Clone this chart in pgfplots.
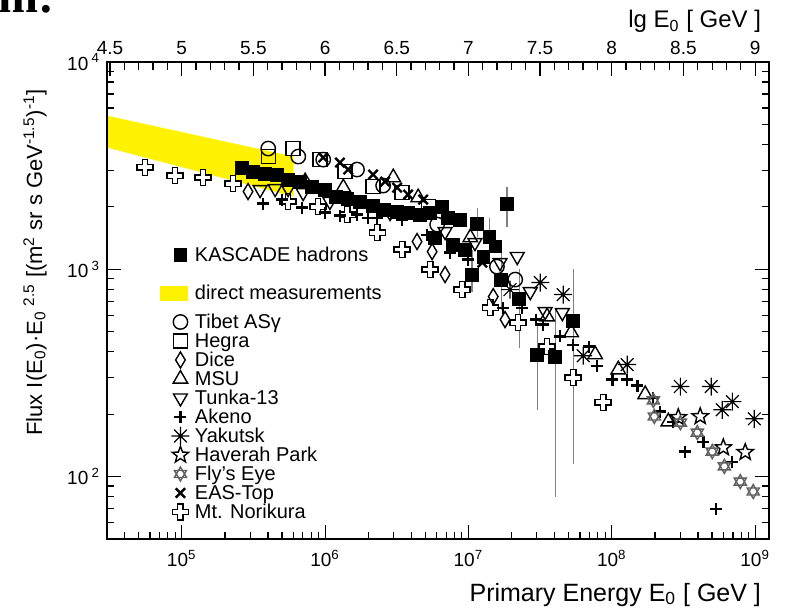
\documentclass[border=0pt]{standalone}
\usepackage{pgfplots}
\pgfplotsset{compat=1.18}
\usepackage{fontspec}
\setmainfont{Liberation Sans}
\newfontfamily\serifbold{Liberation Serif}
\usetikzlibrary{plotmarks}

\pgfdeclareplotmark{ocross}{%
  \pgfpathmoveto{\pgfqpoint{0.33\pgfplotmarksize}{\pgfplotmarksize}}%
  \pgfpathlineto{\pgfqpoint{0.33\pgfplotmarksize}{0.33\pgfplotmarksize}}%
  \pgfpathlineto{\pgfqpoint{\pgfplotmarksize}{0.33\pgfplotmarksize}}%
  \pgfpathlineto{\pgfqpoint{\pgfplotmarksize}{-0.33\pgfplotmarksize}}%
  \pgfpathlineto{\pgfqpoint{0.33\pgfplotmarksize}{-0.33\pgfplotmarksize}}%
  \pgfpathlineto{\pgfqpoint{0.33\pgfplotmarksize}{-\pgfplotmarksize}}%
  \pgfpathlineto{\pgfqpoint{-0.33\pgfplotmarksize}{-\pgfplotmarksize}}%
  \pgfpathlineto{\pgfqpoint{-0.33\pgfplotmarksize}{-0.33\pgfplotmarksize}}%
  \pgfpathlineto{\pgfqpoint{-\pgfplotmarksize}{-0.33\pgfplotmarksize}}%
  \pgfpathlineto{\pgfqpoint{-\pgfplotmarksize}{0.33\pgfplotmarksize}}%
  \pgfpathlineto{\pgfqpoint{-0.33\pgfplotmarksize}{0.33\pgfplotmarksize}}%
  \pgfpathlineto{\pgfqpoint{-0.33\pgfplotmarksize}{\pgfplotmarksize}}%
  \pgfpathclose
  \pgfusepathqfillstroke}
\pgfdeclareplotmark{hexa}{%
  \pgfpathmoveto{\pgfpointpolar{90}{\pgfplotmarksize}}%
  \pgfpathlineto{\pgfpointpolar{210}{\pgfplotmarksize}}%
  \pgfpathlineto{\pgfpointpolar{330}{\pgfplotmarksize}}%
  \pgfpathclose
  \pgfpathmoveto{\pgfpointpolar{270}{\pgfplotmarksize}}%
  \pgfpathlineto{\pgfpointpolar{30}{\pgfplotmarksize}}%
  \pgfpathlineto{\pgfpointpolar{150}{\pgfplotmarksize}}%
  \pgfpathclose
  \pgfusepathqstroke}
\pgfdeclareplotmark{ostar}{%
  \pgfpathmoveto{\pgfpointpolar{90}{\pgfplotmarksize}}%
  \pgfpathlineto{\pgfpointpolar{126}{0.42\pgfplotmarksize}}%
  \pgfpathlineto{\pgfpointpolar{162}{\pgfplotmarksize}}%
  \pgfpathlineto{\pgfpointpolar{198}{0.42\pgfplotmarksize}}%
  \pgfpathlineto{\pgfpointpolar{234}{\pgfplotmarksize}}%
  \pgfpathlineto{\pgfpointpolar{270}{0.42\pgfplotmarksize}}%
  \pgfpathlineto{\pgfpointpolar{306}{\pgfplotmarksize}}%
  \pgfpathlineto{\pgfpointpolar{342}{0.42\pgfplotmarksize}}%
  \pgfpathlineto{\pgfpointpolar{18}{\pgfplotmarksize}}%
  \pgfpathlineto{\pgfpointpolar{54}{0.42\pgfplotmarksize}}%
  \pgfpathclose
  \pgfusepathqfillstroke}
\pgfdeclareplotmark{yak}{%
  \pgfpathmoveto{\pgfqpoint{-\pgfplotmarksize}{0pt}}\pgfpathlineto{\pgfqpoint{\pgfplotmarksize}{0pt}}%
  \pgfpathmoveto{\pgfqpoint{0pt}{-\pgfplotmarksize}}\pgfpathlineto{\pgfqpoint{0pt}{\pgfplotmarksize}}%
  \pgfpathmoveto{\pgfqpoint{-0.707\pgfplotmarksize}{-0.707\pgfplotmarksize}}\pgfpathlineto{\pgfqpoint{0.707\pgfplotmarksize}{0.707\pgfplotmarksize}}%
  \pgfpathmoveto{\pgfqpoint{-0.707\pgfplotmarksize}{0.707\pgfplotmarksize}}\pgfpathlineto{\pgfqpoint{0.707\pgfplotmarksize}{-0.707\pgfplotmarksize}}%
  \pgfusepathqstroke
  \pgfpathcircle{\pgfpointorigin}{0.14\pgfplotmarksize}\pgfusepathqfill}

\definecolor{flygray}{RGB}{95,95,95}
\pgfplotsset{
  lgimg/.style={legend image code/.code={\pgfpathrectangle{\pgfpoint{-10pt}{-3.5pt}}{\pgfpoint{17pt}{7pt}}\pgfusepath{}\draw[##1] plot coordinates {(0pt,0pt)};}},
  sKAS/.style={only marks, mark=square*, mark size=3.2pt, mark options={draw=black, fill=black}},
  sTIB/.style={only marks, mark=o, mark size=3.6pt, line width=0.7pt},
  sHEG/.style={only marks, mark=square, mark size=3.5pt, line width=0.7pt},
  sDIC/.style={only marks, mark=diamond, mark size=4pt, line width=0.7pt, mark options={xscale=0.8}},
  sMSU/.style={only marks, mark=triangle, mark size=4.2pt, line width=0.7pt},
  sTUN/.style={only marks, mark=triangle, mark size=4pt, line width=0.7pt, mark options={rotate=180}},
  sAKE/.style={only marks, mark=+, mark size=3pt, line width=1.1pt},
  sYAK/.style={only marks, mark=yak, mark size=4.5pt, line width=0.6pt},
  sHAV/.style={only marks, mark=ostar, mark size=4.3pt, line width=0.7pt, mark options={fill=white}},
  sFLY/.style={only marks, mark=hexa, mark size=3.5pt, line width=0.7pt, color=flygray},
  sEAS/.style={only marks, mark=x, mark size=3.3pt, line width=1.2pt},
  sNOR/.style={only marks, mark=ocross, mark size=4pt, line width=0.7pt, mark options={fill=white}},
}

\begin{document}
\begin{tikzpicture}
\begin{axis}[
  width=331pt, height=238.5pt, scale only axis,
  xmode=log, ymode=log,
  xmin=3.01e4, xmax=1.25e9, ymin=50, ymax=1e4,
  xtick={1e5,1e6,1e7,1e8,1e9},
  xticklabels={10\textsuperscript{5},10\textsuperscript{6},10\textsuperscript{7},10\textsuperscript{8},10\textsuperscript{9}},
  minor xtick={4e4,5e4,6e4,7e4,8e4,9e4,2e5,3e5,4e5,5e5,6e5,7e5,8e5,9e5,2e6,3e6,4e6,5e6,6e6,7e6,8e6,9e6,2e7,3e7,4e7,5e7,6e7,7e7,8e7,9e7,2e8,3e8,4e8,5e8,6e8,7e8,8e8,9e8},
  ytick={100,1000,10000},
  yticklabels={10\,\textsuperscript{2},10\,\textsuperscript{3},10\,\textsuperscript{4}},
  minor ytick={60,70,80,90,200,300,400,500,600,700,800,900,2000,3000,4000,5000,6000,7000,8000,9000},
  xtick pos=left,
  tick align=inside,
  major tick length=7pt, minor tick length=3.5pt,
  axis line style={line width=0.9pt},
  tick style={black, line width=0.6pt},
  ticklabel style={font=\fontsize{9.5}{11}\selectfont},
  xticklabel style={yshift=-2pt},
  legend cell align=left,
  legend style={draw=none, fill=none, inner sep=0pt, outer sep=0pt, at={(0.0801,0.6153)}, anchor=north west, row sep=0pt, column sep=0pt, font=\fontsize{10}{11}\selectfont, nodes={inner sep=0.25pt, text height=8pt, text depth=1pt}},
]
% direct measurements band
\addplot[fill=yellow, draw=none, forget plot] coordinates {(3.01e4,5508) (5.98e5,3500) (5.98e5,2244) (3.01e4,3865)};

% Mt. Norikura
\addplot[sNOR, forget plot] coordinates {(5.55e4,3100) (8.98e4,2831) (1.41e5,2770) (2.28e5,2590) (5.52e5,2123) (8.94e5,2006) (1.43e6,1836) (2.31e6,1503) (3.45e6,1245) (5.41e6,997) (9.04e6,798) (1.42e7,653) (2.22e7,553) (3.54e7,424) (5.38e7,300) (8.71e7,228)};
% Dice
\addplot[sDIC, forget plot] coordinates {(2.90e5,2371) (2.84e6,1878) (4.38e6,1361) (5.58e6,1217) (6.87e6,943) (1.49e7,738) (1.80e7,572)};
% Akeno
\addplot[sAKE, forget plot] coordinates {(3.70e5,2075) (5.01e5,2169) (6.92e5,1985) (1.0e6,1878) (1.27e6,1816) (1.67e6,1836) (2.0e6,1775) (2.31e6,1775) (3.45e6,1738) (5.15e6,1470) (7.45e6,1204) (9.95e6,1114) (1.75e7,653) (2.37e7,653) (2.97e7,572) (3.33e7,541) (4.38e7,474) (5.38e7,433) (6.97e7,424) (7.92e7,343) (1.01e8,294) (1.28e8,294) (1.51e8,275) (1.95e8,240) (2.18e8,206) (2.69e8,184) (3.26e8,132) (4.36e8,147) (5.36e8,70) (6.94e8,118)};
% Tunka-13
\addplot[sTUN, forget plot] coordinates {(3.52e5,2423) (4.48e5,2451) (5.52e5,2451) (7.03e5,2344) (1.08e6,2123) (6.87e6,1520) (1.11e7,1345) (1.66e7,1077) (2.19e7,1152) (2.70e7,780) (3.43e7,625) (4.52e7,618)};
% MSU
\addplot[sMSU, forget plot] coordinates {(7.26e5,2649) (1.34e6,2478) (2.99e6,2770) (4.46e6,2218) (1.03e7,1422) (3.54e7,591) (5.21e7,495) (7.66e7,388) (1.11e8,328) (1.71e8,249) (2.48e8,184)};
% Tibet
\addplot[sTIB, forget plot] coordinates {(4.01e5,3823) (6.50e5,3497) (9.70e5,3381) (1.67e6,3027) (2.54e6,2534) (6.05e6,1643) (1.58e7,1030) (2.12e7,892)};
% Hegra
\addplot[sHEG, forget plot] coordinates {(4.01e5,3497) (5.98e5,3823) (9.23e5,3381) (1.38e6,2961) (2.16e6,2506) (3.45e6,2344) (5.24e6,2006)};
% EAS-Top
\addplot[sEAS, forget plot] coordinates {(9.70e5,3459) (1.27e6,3272) (1.45e6,3027) (2.16e6,2864) (2.62e6,2649) (3.18e6,2478) (3.79e6,2293) (4.83e6,2169) (1.25e7,1077)};
% Yakutsk
\addplot[sYAK, forget plot] coordinates {(1.95e7,798) (3.17e7,863) (4.58e7,755) (6.32e7,383) (1.28e8,347) (3.01e8,272) (4.94e8,272) (5.90e8,210) (6.94e8,230) (9.87e8,190)};
% Haverah Park
\addplot[sHAV, forget plot] coordinates {(2.91e8,193) (4.14e8,195) (6.00e8,138) (8.53e8,131)};
% Fly's Eye
\addplot[sFLY, forget plot] coordinates {(1.95e8,233) (1.98e8,195) (3.01e8,182) (3.95e8,163) (5.02e8,132) (6.10e8,112) (7.88e8,94.6) (9.70e8,84.7)};
% KASCADE hadrons
\addplot[sKAS, forget plot, error bars/.cd, y dir=both, y explicit, error mark=none, error bar style={gray, line width=0.6pt}]
  table[x=x, y=y, y error plus=ep, y error minus=em] {
x y ep em
2.64e5 3097 0 0
3.15e5 2961 0 0
3.81e5 2897 0 0
4.62e5 2864 0 0
5.52e5 2710 0 0
6.70e5 2649 0 0
8.11e5 2506 0 0
1.00e6 2423 0 0
1.19e6 2243 0 0
1.43e6 2193 0 0
1.75e6 2123 0 0
2.16e6 2029 0 0
2.58e6 1941 0 0
3.18e6 1897 0 0
3.79e6 1878 0 0
4.60e6 1836 0 0
5.41e6 1878 0 0
5.86e6 1422 0 0
6.55e6 2006 0 0
7.21e6 1775 0 0
7.82e6 1315 0 0
8.75e6 1738 0 0
9.48e6 1245 0 0
1.06e7 943 302 163
1.15e7 1660 325 223
1.27e7 1152 0 0
1.40e7 1437 338 192
1.54e7 1288 0 0
1.69e7 892 300 253
1.86e7 2075 431 468
2.26e7 722 278 303
3.02e7 388 165 178
4.03e7 379 274 299
5.38e7 566 434 451
};

% legend
\addlegendimage{sKAS, lgimg}
\addlegendentry{KASCADE hadrons}
\addlegendimage{empty legend}
\addlegendentry{\mbox{}}
\addlegendimage{legend image code/.code={\pgfpathrectangle{\pgfpoint{-10pt}{-3.5pt}}{\pgfpoint{17pt}{7pt}}\pgfusepath{}\fill[yellow] (-10pt,-3.5pt) rectangle (3.5pt,3.5pt);}}
\addlegendentry{direct measurements}
\addlegendimage{empty legend}
\addlegendentry[text height=4pt, text depth=0.5pt]{\mbox{}}
\addlegendimage{sTIB, lgimg}
\addlegendentry{Tibet ASγ}
\addlegendimage{sHEG, lgimg}
\addlegendentry{Hegra}
\addlegendimage{sDIC, lgimg}
\addlegendentry{Dice}
\addlegendimage{sMSU, lgimg}
\addlegendentry{MSU}
\addlegendimage{sTUN, lgimg}
\addlegendentry{Tunka-13}
\addlegendimage{sAKE, lgimg}
\addlegendentry{Akeno}
\addlegendimage{sYAK, lgimg}
\addlegendentry{Yakutsk}
\addlegendimage{sHAV, lgimg}
\addlegendentry{Haverah Park}
\addlegendimage{sFLY, lgimg}
\addlegendentry{Fly's Eye}
\addlegendimage{sEAS, lgimg}
\addlegendentry{EAS-Top}
\addlegendimage{sNOR, lgimg}
\addlegendentry{Mt. Norikura}

\coordinate (YL) at (rel axis cs:-0.098,0.958);
\coordinate (XT) at (rel axis cs:0.9985,-0.130);
\coordinate (TT) at (rel axis cs:0.9985,1.0713);
\coordinate (AM) at (rel axis cs:-0.068,1.1027);
\coordinate (BL) at (rel axis cs:-0.16163,-0.14675);
\coordinate (TR) at (rel axis cs:1.02417,1.12998);
\end{axis}
\begin{axis}[
  width=331pt, height=238.5pt, scale only axis,
  xmin=4.479, xmax=9.097, ymin=0, ymax=1,
  xtick={4.5,5,5.5,6,6.5,7,7.5,8,8.5,9},
  minor x tick num=4,
  xtick pos=right, xticklabel pos=right,
  ytick=\empty,
  tick align=inside,
  major tick length=7pt, minor tick length=4pt,
  axis line style={line width=0.9pt},
  tick style={black, line width=0.6pt},
  ticklabel style={font=\fontsize{9.5}{11}\selectfont},
  /pgf/number format/assume math mode=true,
]
\end{axis}
\node[rotate=90, anchor=base east, font=\fontsize{11}{13}\selectfont] at (YL)
  {Flux I(E\textsubscript{0})·E\textsubscript{0}\textsuperscript{\,\,2.5} [(m\textsuperscript{2} sr s GeV\textsuperscript{-1.5})\textsuperscript{-1}]};
\node[anchor=base east, font=\fontsize{12.5}{14}\selectfont] at (XT) {Primary Energy E\textsubscript{0} [ GeV ]};
\node[anchor=base east, font=\fontsize{12}{14}\selectfont] at (TT) {lg E\textsubscript{0} [ GeV ]};
\node[anchor=base east, font=\serifbold\bfseries\fontsize{24}{28}\selectfont] at (AM) {am:};
\pgfresetboundingbox
\path[use as bounding box] (BL) rectangle (TR);
\end{tikzpicture}
\end{document}
